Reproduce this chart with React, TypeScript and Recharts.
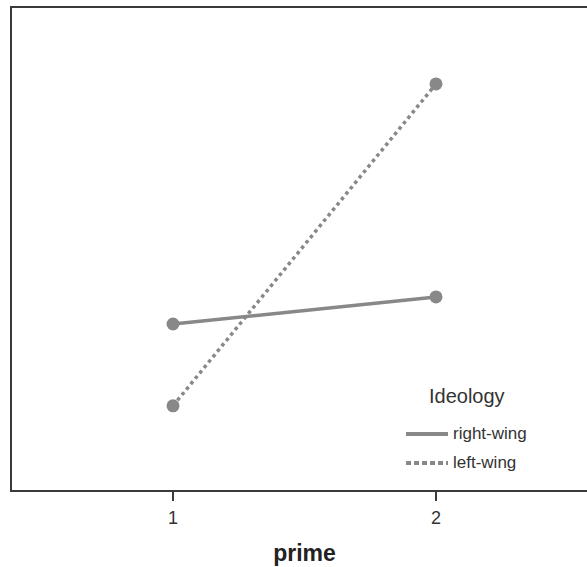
import { LineChart, Line, XAxis, YAxis, ReferenceArea } from 'recharts';

const primes = [1, 2];
const rightWing = [34.5, 40.1];
const leftWing = [17.6, 84.1];
const xTicks = [1, 2];

const data = primes.map((p, i) => ({ prime: p, right: rightWing[i], left: leftWing[i] }));

const LINE_COLOR = '#888888';
const FONT = 'Arial, "Liberation Sans", sans-serif';

function IdeologyLegend() {
    return (
        <div style={{ position: 'absolute', left: 406, top: 382, width: 175, fontFamily: FONT, color: '#333' }}>
            <div style={{ fontSize: 20, marginLeft: 23, marginBottom: 9, lineHeight: '28px' }}>Ideology</div>
            <div style={{ display: 'flex', alignItems: 'center', height: 29 }}>
                <svg width={42} height={6}>
                    <line x1={0} y1={3} x2={42} y2={3} stroke={LINE_COLOR} strokeWidth={4} />
                </svg>
                <span style={{ fontSize: 17, marginLeft: 5 }}>right-wing</span>
            </div>
            <div style={{ display: 'flex', alignItems: 'center', height: 29 }}>
                <svg width={42} height={6}>
                    <line x1={0} y1={3} x2={42} y2={3} stroke={LINE_COLOR} strokeWidth={4} strokeDasharray="5 3" />
                </svg>
                <span style={{ fontSize: 17, marginLeft: 5 }}>left-wing</span>
            </div>
        </div>
    );
}

export default function App() {
    return (
        <div style={{ position: 'absolute', left: 0, top: 0, width: 587, height: 567, overflow: 'hidden', background: '#fff' }}>
            <LineChart width={600} height={567} data={data} margin={{ top: 7, right: 2, left: 11, bottom: 0 }}>
                <XAxis
                    dataKey="prime"
                    type="number"
                    domain={[0.384, 2.616]}
                    ticks={xTicks}
                    height={76}
                    stroke="#3a3a3a"
                    strokeWidth={2}
                    tickSize={10}
                    fontSize={18}
                    fontFamily={FONT}
                    tick={{ fill: '#333', dy: 8 }}
                    label={{ value: 'prime', position: 'insideBottom', offset: 6, fill: '#222', fontSize: 23, fontWeight: 'bold', fontFamily: FONT }}
                />
                <YAxis type="number" domain={[0, 100]} width={0} tick={false} axisLine={false} tickLine={false} />
                <ReferenceArea x1={0.384} x2={2.616} y1={0} y2={100} fill="none" stroke="#3a3a3a" strokeWidth={2} ifOverflow="visible" />
                <Line dataKey="right" stroke={LINE_COLOR} strokeWidth={3.5} dot={{ r: 6.5, fill: LINE_COLOR, stroke: 'none' }} isAnimationActive={false} />
                <Line dataKey="left" stroke={LINE_COLOR} strokeWidth={3.5} strokeDasharray="3.5 3.5" dot={{ r: 6.5, fill: LINE_COLOR, stroke: 'none', strokeDasharray: '' }} isAnimationActive={false} />
            </LineChart>
            <IdeologyLegend />
        </div>
    );
}
